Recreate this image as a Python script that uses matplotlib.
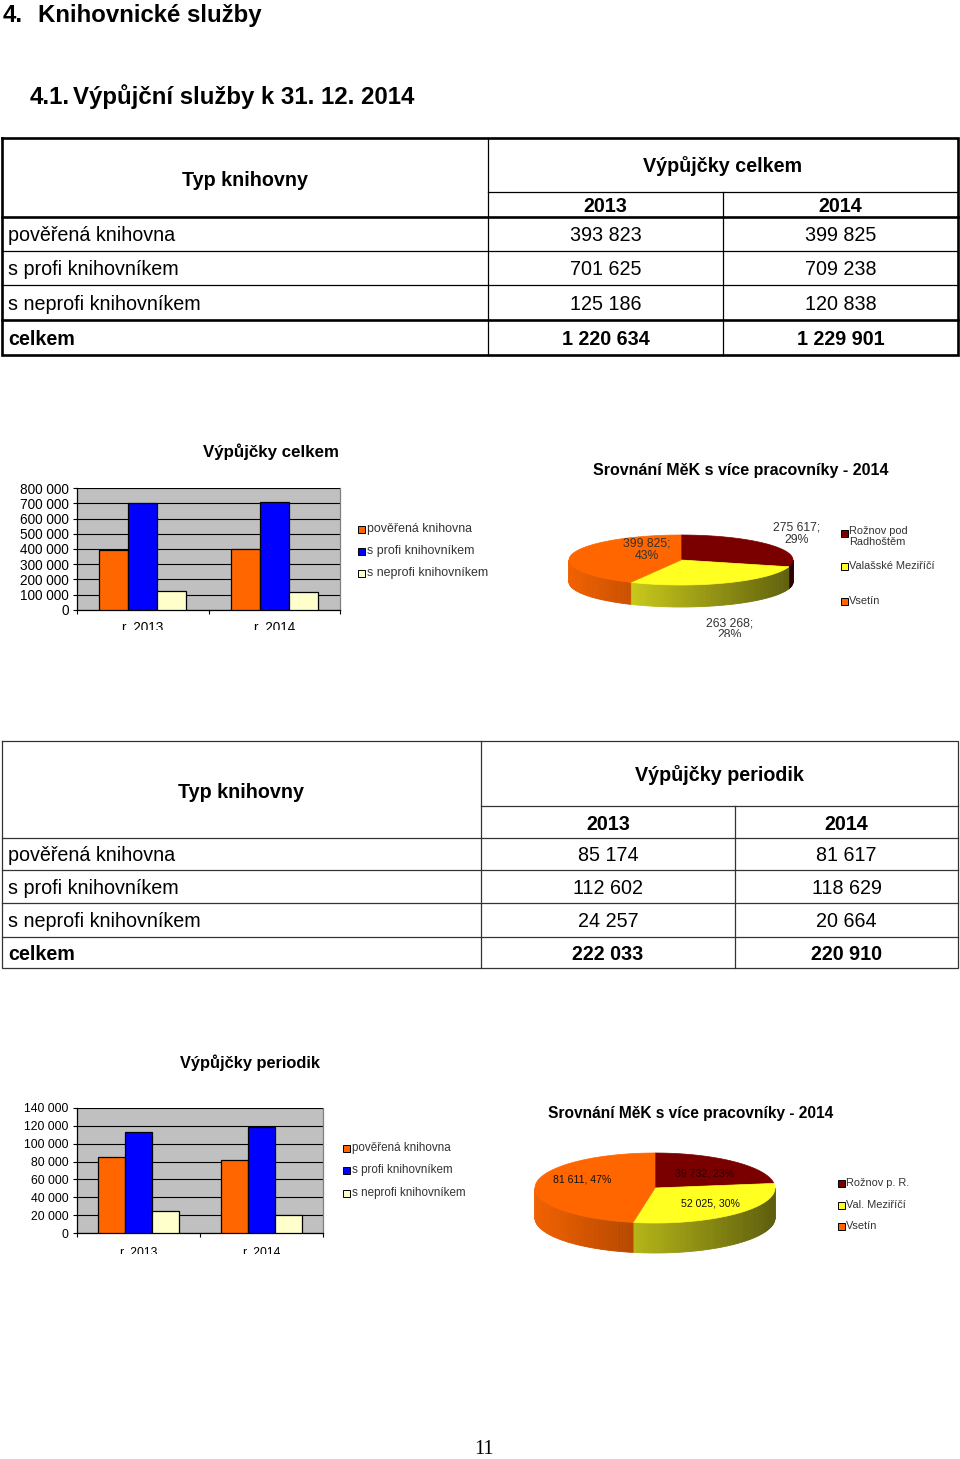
import matplotlib
matplotlib.use("Agg")
import matplotlib.pyplot as plt
import numpy as np
from matplotlib.patches import Polygon, Rectangle
from matplotlib.colors import to_rgb
from matplotlib.transforms import Bbox, TransformedBbox
from matplotlib.ticker import FuncFormatter, MultipleLocator, FixedLocator

plt.rcParams['font.family'] = ['Liberation Sans', 'DejaVu Sans']

# ---------------- data ----------------
library_types = ["pověřená knihovna", "s profi knihovníkem", "s neprofi knihovníkem"]
total_label = "celkem"
years = ["2013", "2014"]
loans_2013 = [393823, 701625, 125186]
loans_2014 = [399825, 709238, 120838]
periodicals_2013 = [85174, 112602, 24257]
periodicals_2014 = [81617, 118629, 20664]
bar_categories = ["r. 2013", "r. 2014"]
bar_colors = ["#FF6600", "#0000FF", "#FFFFCC"]

towns_pie1 = ["Rožnov pod\nRadhoštěm", "Valašské Meziříčí", "Vsetín"]
loans_towns_2014 = [275617, 263268, 399825]
towns_pie2 = ["Rožnov p. R.", "Val. Meziříčí", "Vsetín"]
periodicals_towns_2014 = [39732, 52025, 81611]
pie_colors = ["#7A0000", "#FFFF22", "#FF6600"]

W, H = 960, 1459


def fmt(v):
    return f"{int(round(v)):,}".replace(",", " ")


fig = plt.figure(figsize=(W / 100, H / 100), dpi=100)
fig.patch.set_facecolor("white")
ax0 = fig.add_axes([0, 0, 1, 1])
ax0.set_xlim(0, W)
ax0.set_ylim(H, 0)
ax0.axis("off")


def px_rect(x0, y0, x1, y1):
    return [x0 / W, 1 - y1 / H, (x1 - x0) / W, (y1 - y0) / H]


def clip_below(artist, ypix):
    """Hide the part of a text lying below pixel row ypix (counted from the top)."""
    artist.set_clip_path(None)
    bb = TransformedBbox(Bbox([[0, 1 - ypix / H], [1, 1]]), fig.transFigure)
    artist.set_clip_box(bb)
    artist.set_clip_on(True)


# ---------------- headings ----------------
HFS = 17.3
ax0.text(3, 22, "4.", fontsize=HFS, fontweight="bold", va="baseline")
ax0.text(38, 22, "Knihovnické služby", fontsize=HFS, fontweight="bold", va="baseline")
ax0.text(30, 104, "4.1.", fontsize=HFS, fontweight="bold", va="baseline")
ax0.text(73, 104, "Výpůjční služby k 31. 12. 2014", fontsize=HFS, fontweight="bold", va="baseline")


# ---------------- tables ----------------
TFS = 14.2


def draw_table(top, bottom, xsplit, xmid, ysub, yhead, rows_y, header_title, v13, v14,
               ytyp, ytitle, yyears, thick, lc):
    left, right = 2, 958
    lw_out = 1.9 if thick else 0.9
    lw_in = 0.9
    ax0.plot([left, right, right, left, left], [top, top, bottom, bottom, top],
             color=lc, lw=lw_out, solid_joinstyle="miter")
    ax0.plot([xsplit, xsplit], [top, bottom], color=lc, lw=lw_in)
    ax0.plot([xmid, xmid], [ysub, bottom], color=lc, lw=lw_in)
    ax0.plot([xsplit, right], [ysub, ysub], color=lc, lw=lw_in)
    ax0.plot([left, right], [yhead, yhead], color=lc, lw=lw_out)
    for i, y in enumerate(rows_y[1:]):
        lw = lw_out if i == len(rows_y) - 2 else lw_in
        ax0.plot([left, right], [y, y], color=lc, lw=lw)
    c1 = (xsplit + xmid) / 2
    c2 = (xmid + right) / 2
    ax0.text((left + xsplit) / 2, ytyp, "Typ knihovny", fontsize=TFS, fontweight="bold",
             ha="center", va="baseline")
    ax0.text((xsplit + right) / 2, ytitle, header_title, fontsize=TFS, fontweight="bold",
             ha="center", va="baseline")
    ax0.text(c1, yyears, years[0], fontsize=TFS, fontweight="bold", ha="center", va="baseline")
    ax0.text(c2, yyears, years[1], fontsize=TFS, fontweight="bold", ha="center", va="baseline")
    labels = library_types + [total_label]
    vals13 = list(v13) + [sum(v13)]
    vals14 = list(v14) + [sum(v14)]
    rows_all = list(rows_y) + [bottom]
    for i, lab in enumerate(labels):
        yb = (rows_all[i] + rows_all[i + 1]) / 2 + 7.3
        fw = "bold" if i == len(labels) - 1 else "normal"
        ax0.text(8, yb, lab, fontsize=TFS, fontweight=fw, va="baseline")
        ax0.text(c1, yb, fmt(vals13[i]), fontsize=TFS, fontweight=fw, ha="center", va="baseline")
        ax0.text(c2, yb, fmt(vals14[i]), fontsize=TFS, fontweight=fw, ha="center", va="baseline")


draw_table(top=138, bottom=355, xsplit=488, xmid=723, ysub=192, yhead=217,
           rows_y=[217, 251, 285, 320], header_title="Výpůjčky celkem",
           v13=loans_2013, v14=loans_2014, ytyp=186, ytitle=172, yyears=212,
           thick=True, lc="black")
draw_table(top=741, bottom=968, xsplit=481, xmid=735, ysub=806, yhead=838,
           rows_y=[838, 870, 903, 937], header_title="Výpůjčky periodik",
           v13=periodicals_2013, v14=periodicals_2014, ytyp=798, ytitle=781, yyears=830,
           thick=False, lc="#333333")


# ---------------- bar charts ----------------
def bar_chart(rect, v13, v14, ymax, ystep, tfs, xpad, clip_y, title, title_xy, title_fs,
              leg_x, leg_ys, leg_fs):
    ax = fig.add_axes(px_rect(*rect))
    ax.set_facecolor("#C0C0C0")
    x = np.arange(len(bar_categories))
    w = 0.22
    series = [[v13[i], v14[i]] for i in range(len(library_types))]
    for i, s in enumerate(series):
        ax.bar(x + (i - 1) * w, s, width=w, color=bar_colors[i], edgecolor="black",
               linewidth=0.9, zorder=3)
    ax.set_xlim(-0.5, len(bar_categories) - 0.5)
    ax.set_ylim(0, ymax)
    ax.yaxis.set_major_locator(MultipleLocator(ystep))
    ax.yaxis.set_major_formatter(FuncFormatter(lambda v, p: fmt(v)))
    ax.grid(axis="y", color="black", lw=0.8, zorder=1)
    ax.set_axisbelow(True)
    ax.set_xticks(x)
    ax.set_xticklabels(bar_categories)
    ax.xaxis.set_minor_locator(FixedLocator(np.arange(-0.5, len(bar_categories), 1.0)))
    ax.tick_params(axis="x", which="major", length=0, pad=xpad, labelsize=tfs)
    ax.tick_params(axis="x", which="minor", length=3, width=0.8, direction="out")
    ax.tick_params(axis="y", length=3, width=0.8, direction="out", pad=3, labelsize=tfs)
    for sp in ("left", "bottom"):
        ax.spines[sp].set_color("black")
        ax.spines[sp].set_linewidth(0.9)
    ax.spines["top"].set_visible(False)
    ax.spines["right"].set_color("#808080")
    ax.spines["right"].set_linewidth(0.9)
    for t in ax.get_xticklabels():
        clip_below(t, clip_y)
    ax0.text(title_xy[0], title_xy[1], title, fontsize=title_fs, fontweight="bold",
             ha="center", va="baseline")
    for i, lab in enumerate(library_types):
        ax0.add_patch(Rectangle((leg_x, leg_ys[i] - 3.5), 7, 7, facecolor=bar_colors[i],
                                edgecolor="black", lw=0.7))
        ax0.text(leg_x + 9, leg_ys[i], lab, fontsize=leg_fs, color="#333333", va="center")
    return ax


bar_chart((77, 488, 340, 610), loans_2013, loans_2014, 800000, 100000, 9.8, 8.2, 630,
          "Výpůjčky celkem", (271, 457), 12.2, 358, [529, 551, 573], 8.9)
bar_chart((77, 1108, 323, 1233), periodicals_2013, periodicals_2014, 140000, 20000, 8.8, 10.0, 1254,
          "Výpůjčky periodik", (250, 1068), 11.8, 343, [1148, 1170, 1193], 8.4)


# ---------------- 3D pies ----------------
def pie3d(values, cx, cy, a, b, depth, start=90):
    total = float(sum(values))
    angles = [start]
    for v in values:
        angles.append(angles[-1] - 360.0 * v / total)
    for i in range(len(values)):
        t1, t2 = angles[i], angles[i + 1]
        base = np.array(to_rgb(pie_colors[i]))
        for k in (0, -360):
            lo = max(t2, -180 + k)
            hi = min(t1, 0 + k)
            if hi > lo:
                ts = np.linspace(lo, hi, max(2, int((hi - lo) / 1.5) + 2))
                for j in range(len(ts) - 1):
                    ta, tb = np.radians(ts[j]), np.radians(ts[j + 1])
                    xa, xb = cx + a * np.cos(ta), cx + a * np.cos(tb)
                    ya, yb = cy - b * np.sin(ta), cy - b * np.sin(tb)
                    xn = np.cos((ta + tb) / 2)
                    f = 0.95 - 0.29 * (xn + 1)
                    col = tuple(np.clip(base * f, 0, 1))
                    ax0.add_patch(Polygon([(xa, ya), (xb, yb), (xb, yb + depth), (xa, ya + depth)],
                                          closed=True, fc=col, ec=col, lw=0.6))
    for i in range(len(values)):
        t1, t2 = angles[i], angles[i + 1]
        ts = np.radians(np.linspace(t2, t1, 240))
        pts = [(cx, cy)] + [(cx + a * np.cos(t), cy - b * np.sin(t)) for t in ts]
        ax0.add_patch(Polygon(pts, closed=True, fc=pie_colors[i], ec=pie_colors[i], lw=0.5))
    return [round(100 * v / total) for v in values]


def pie_legend(labels, x, ys, fs):
    for i, lab in enumerate(labels):
        ax0.add_patch(Rectangle((x, ys[i] - 3.5), 7, 7, facecolor=pie_colors[i],
                                edgecolor="black", lw=0.7))
        if "\n" in lab:
            ax0.text(x + 8, ys[i] - 7, lab, fontsize=fs, color="#333333", va="top",
                     linespacing=1.1)
        else:
            ax0.text(x + 8, ys[i], lab, fontsize=fs, color="#333333", va="center")


# pie 1
ax0.text(741, 475, "Srovnání MěK s více pracovníky - 2014", fontsize=11.5, fontweight="bold",
         ha="center", va="baseline")
p1 = pie3d(loans_towns_2014, 681, 560, 112, 25, 22)
pie1_label_pos = [(797, 534), (730, 629), (647, 550)]
for i, v in enumerate(loans_towns_2014):
    t = ax0.text(pie1_label_pos[i][0], pie1_label_pos[i][1], f"{fmt(v)};\n{p1[i]}%",
                 fontsize=8.8, color="#333333", ha="center", va="center", linespacing=1.0)
    clip_below(t, 637)
pie_legend(towns_pie1, 841, [533, 566, 601], 7.9)

# pie 2
ax0.text(691, 1118, "Srovnání MěK s více pracovníky - 2014", fontsize=11.2, fontweight="bold",
         ha="center", va="baseline")
p2 = pie3d(periodicals_towns_2014, 655, 1188, 120, 35, 30)
pie2_label_pos = [(705, 1173), (710, 1203), (582, 1180)]
for i, v in enumerate(periodicals_towns_2014):
    ax0.text(pie2_label_pos[i][0], pie2_label_pos[i][1], f"{fmt(v)}, {p2[i]}%",
             fontsize=7.6, color="#111111" if i != 0 else "#2a0000", ha="center", va="center")
pie_legend(towns_pie2, 838, [1183, 1205, 1226], 7.9)

# page number
ax0.text(484, 1454, "11", fontsize=14.5, family=["Liberation Serif", "DejaVu Serif"],
         ha="center", va="baseline")

fig.savefig("out.png", dpi=100, facecolor="white")
